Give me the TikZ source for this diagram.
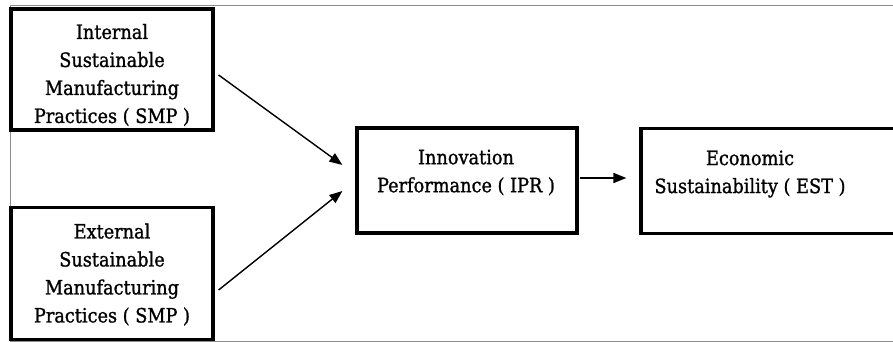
\documentclass[tikz,border=0pt]{standalone}
\usepackage{fontspec}
\setmainfont{DejaVu Serif Condensed}[BoldFont={DejaVu Serif Condensed},BoldFeatures={FakeBold=1.2}]
\usetikzlibrary{arrows.meta,calc}
\begin{document}
\begin{tikzpicture}[x=1pt,y=-1pt,
  boxshape/.style={draw=black,line width=3.2pt,rectangle,inner sep=0pt},
  boxtext/.style={align=center,inner sep=0pt,font=\fontsize{19.7}{28}\selectfont\bfseries},
  conn/.style={line width=1.4pt,-{Triangle[length=13pt,width=10pt]}}]
\useasboundingbox (0,0) rectangle (893,342);
\clip (0,0) rectangle (893,342);
\draw[black!45,line width=0.9pt] (10,5) rectangle (920,341);
% boxes
\node[boxshape,minimum width=202pt,minimum height=121pt] (int) at (112,69.5) {};
\node[boxshape,minimum width=202pt,minimum height=132pt] (ext) at (112,273.5) {};
\node[boxshape,minimum width=220pt,minimum height=105pt] (ipr) at (467,180.5) {};
\node[boxshape,minimum width=264pt,minimum height=105pt] (est) at (773,181) {};
% texts
\node[boxtext] (intT) at (112,75) {Internal\\Sustainable\\Manufacturing\\Practices ( SMP )};
\node[boxtext] (extT) at (112,274.5) {External\\Sustainable\\Manufacturing\\Practices ( SMP )};
\node[boxtext] (iprT) at (466,172.5) {Innovation\\Performance ( IPR )};
\node[boxtext] (estT) at (750,174) {Economic\\Sustainability ( EST )};
% connectors
\draw[conn] ($(int.east)+(4,5.5)$) -- ($(ipr.west)+(-13,-15.5)$);
\draw[conn] ($(ext.east)+(4,16.5)$) -- ($(ipr.west)+(-13,10.5)$);
\draw[conn] ($(ipr.east)+(1,-2.5)$) -- ($(est.west)+(-13,-3)$);
\end{tikzpicture}
\end{document}
